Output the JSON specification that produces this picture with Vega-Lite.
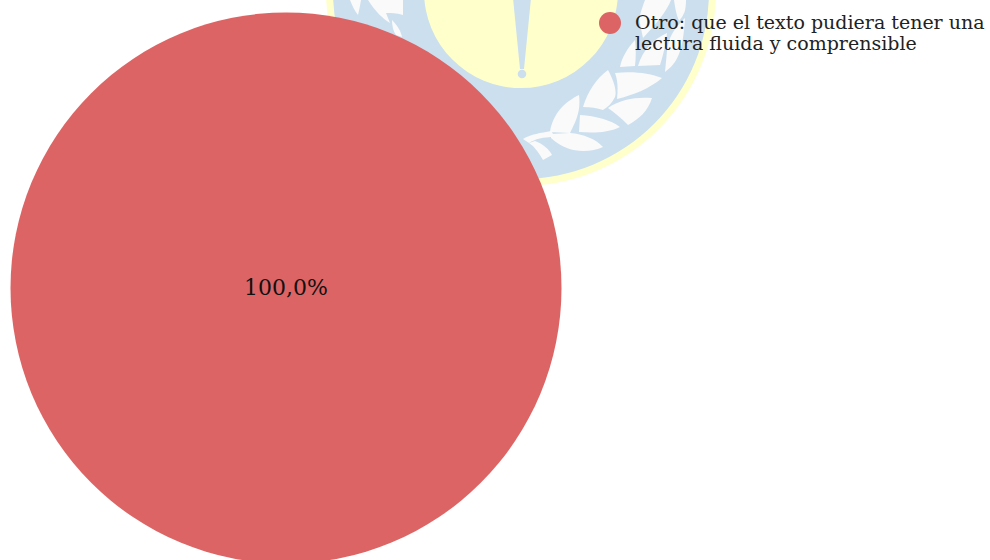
{"$schema":"https://vega.github.io/schema/vega-lite/v6.json","width":572,"height":576,"autosize":"none","padding":{"left":0,"top":0,"right":418,"bottom":-16},"background":"#ffffff","view":{"stroke":null},"data":{"values":[{"respuesta":"Otro: que el texto pudiera tener una lectura fluida y comprensible","porcentaje":100}]},"layer":[{"data":{"values":[{"ex":0,"ey":0}]},"mark":{"type":"point","filled":true,"opacity":1,"shape":"circle","size":152100,"color":"#FFFFCC"},"encoding":{"x":{"field":"ex","type":"quantitative","axis":null,"scale":{"domain":[-521,51],"nice":false,"zero":false}},"y":{"field":"ey","type":"quantitative","axis":null,"scale":{"domain":[9,585],"reverse":true,"nice":false,"zero":false}}}},{"data":{"values":[{"ex":0,"ey":0}]},"mark":{"type":"point","filled":true,"opacity":1,"shape":"circle","size":141376,"color":"#CCDFEE"},"encoding":{"x":{"field":"ex","type":"quantitative"},"y":{"field":"ey","type":"quantitative"}}},{"data":{"values":[{"ex":0,"ey":0}]},"mark":{"type":"point","filled":true,"opacity":1,"shape":"circle","size":37636,"color":"#FFFFCC"},"encoding":{"x":{"field":"ex","type":"quantitative"},"y":{"field":"ey","type":"quantitative"}}},{"data":{"values":[{"ex":0,"ey":0}]},"mark":{"type":"point","filled":true,"opacity":1,"size":4,"color":"#CCDFEE","shape":"M-9,-3 L11,-3 L3,78 L-1,78Z M-3.3,83 A4.3,4.3 0 1 0 5.3,83 A4.3,4.3 0 1 0 -3.3,83Z"},"encoding":{"x":{"field":"ex","type":"quantitative"},"y":{"field":"ey","type":"quantitative"}}},{"data":{"values":[{"ex":0,"ey":0}]},"mark":{"type":"point","filled":true,"opacity":1,"size":4,"color":"#FAFAFA","shape":"M29,141 C32,122 44,111 58,104 C60,120 55,130 49,142Z M30,143 L49,142 C62,143 75,148 82,156 C68,162 47,163 30,147Z M59,124 C75,125 90,129 99,136 C87,142 72,142 58,141Z M62,116 C67,100 75,88 87,79 C93,90 96,100 94,106 C91,112 87,116 82,119 C76,117 70,116 62,116Z M87,117 C100,108 115,106 131,107 C127,120 118,128 107,134 C100,127 94,122 87,117Z M94,82 C112,80 128,82 141,87 C128,98 112,104 96,108 C97,98 97,90 94,82Z M114,49 C106,58 101,66 99,76 L114,75 C115,66 115,58 114,49Z M117,75 L139,74 C142,65 145,53 146,42 C133,48 122,58 117,75Z M144,81 C156,72 162,62 164,27 C154,36 147,47 146,60Z M118,28 C120,20 122,14 124,9 L150,9 C146,20 135,33 122,47Z M153,9 L165,9 C165,20 163,24 158,30 C155,23 154,16 153,9Z M2,148 C10,143 20,142 30,140 L34,146 C22,146 14,148 8,152Z M14,150 C22,153 28,158 31,164 L22,169 C18,162 14,156 8,152Z M-171,9 L-160,9 C-161,15 -162,20 -163,24 C-167,19 -169,14 -171,9Z M-153,9 L-118,9 L-118,24 C-125,22 -130,22 -135,22 L-131,32 C-138,28 -146,20 -153,9Z M-129,29 C-124,34 -120,40 -119,46 L-125,44 C-128,40 -129,34 -129,29Z"},"encoding":{"x":{"field":"ex","type":"quantitative"},"y":{"field":"ey","type":"quantitative"}}},{"mark":{"type":"arc","outerRadius":275.5},"encoding":{"theta":{"field":"porcentaje","type":"quantitative"},"color":{"field":"respuesta","type":"nominal","scale":{"range":["#DD6464"]},"legend":{"orient":"none","legendX":599,"legendY":12,"title":null,"symbolType":"circle","symbolSize":484,"symbolOpacity":1,"symbolStrokeWidth":0,"labelFont":"DejaVu Serif","labelFontSize":19,"labelColor":"#222222","labelOffset":14,"labelLimit":0,"labelLineHeight":22,"labelExpr":"['Otro: que el texto pudiera tener una','lectura fluida y comprensible']"}}}},{"mark":{"type":"text","font":"DejaVu Serif","fontSize":22,"color":"#111111","baseline":"middle","align":"center"},"encoding":{"text":{"value":"100,0%"}}}]}
